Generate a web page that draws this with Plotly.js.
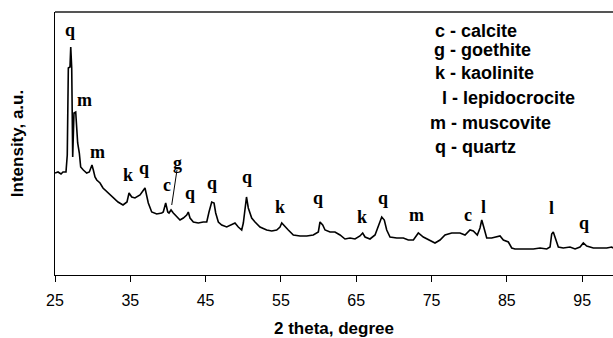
<!DOCTYPE html>
<html>
<head>
<meta charset="utf-8">
<script src="https://cdn.plot.ly/plotly-3.0.1.min.js"></script>
<style>html,body{margin:0;padding:0;background:#fff;}#chart{width:613px;height:338px;}</style>
</head>
<body>
<div id="chart"></div>
<script>
// 2-theta (degree) values of the XRD pattern
const twoTheta = [25.00,25.40,25.80,26.06,26.46,26.63,26.77,26.99,27.09,27.22,27.35,27.52,27.75,27.88,28.01,28.23,28.41,28.76,29.21,29.56,29.74,29.91,30.09,30.31,30.54,30.98,31.37,32.04,32.70,33.37,34.03,34.56,34.83,35.19,35.62,35.89,36.29,36.95,37.39,37.84,38.51,39.17,39.38,39.70,39.97,40.14,40.41,40.71,41.16,41.60,42.04,42.49,42.70,42.93,43.37,44.03,44.69,45.15,45.45,45.81,46.12,46.34,46.69,47.14,47.80,48.47,48.90,49.34,49.79,50.01,50.23,50.43,50.67,51.12,51.56,52.22,53.11,53.78,54.44,54.88,55.11,55.54,55.98,56.65,57.54,58.43,59.30,59.97,60.19,60.55,60.86,61.52,62.18,62.85,63.51,64.18,64.84,65.50,65.86,66.17,66.83,67.50,67.94,68.39,68.73,69.05,69.49,70.38,71.26,71.92,72.59,73.25,73.91,74.80,75.46,76.13,76.79,77.68,78.78,79.45,80.11,80.55,81.08,81.44,81.67,81.97,82.33,82.99,83.66,84.10,84.54,85.20,85.65,86.09,87.19,88.52,89.41,90.30,90.74,90.96,91.17,91.40,91.84,92.50,93.39,94.06,94.72,95.16,95.61,96.49,97.38,98.27,98.93,99.10];
// intensity (arbitrary units)
const intensity = [102,103,101,103,103,120,207,208,228,207,118,162,163,147,132,122,108,105,102,103,108,110,105,98,95,92,87,82,78,73,70,73,82,78,77,78,80,87,72,63,61,62,63,72,63,62,65,62,58,55,57,60,63,57,53,52,53,53,63,73,72,62,53,50,48,50,52,48,45,52,68,78,67,57,53,48,45,44,45,48,52,48,45,40,39,39,40,43,53,50,45,43,43,40,36,37,36,39,42,38,36,40,48,58,55,45,38,37,37,35,35,42,38,35,32,35,40,42,42,40,45,44,40,47,55,47,37,37,38,39,35,33,27,26,26,26,27,26,28,41,43,38,28,27,28,26,28,32,29,27,27,27,28,27];

// peak labels
const peakText = ["q","m","m","k","q","c","g","q","q","q","k","q","k","q","m","c","l","l","q"];
const peakX = [26.99,28.98,30.58,34.69,36.82,39.81,41.33,42.93,45.85,50.43,54.88,59.97,65.73,68.52,72.94,79.89,81.88,90.96,95.25];
const peakY = [245,175,123,100,107,90,112,82,92,98,68,77,58,77,60,60,68,67,52];

// mineral key
const keyCodes = ["c","g","k","l","m","q"];
const keyNames = ["calcite","goethite","kaolinite","lepidocrocite","muscovite","quartz"];
const keyX = [0.677,0.676,0.677,0.690,0.668,0.677];
const keyY = [0.926,0.857,0.768,0.673,0.578,0.487];

const xTicks = [25,35,45,55,65,75,85,95];

const trace = {
  x: twoTheta, y: intensity, type: "scatter", mode: "lines",
  line: {color: "#000", width: 1.6}, hoverinfo: "skip", showlegend: false
};

const annotations = [];
peakText.forEach((t, i) => annotations.push({
  x: peakX[i], y: peakY[i], xref: "x", yref: "y", text: t, showarrow: false,
  font: {family: "Liberation Serif, Times New Roman, serif", size: 18, color: "#000", weight: "bold"},
  xanchor: "center", yanchor: "middle"
}));
keyCodes.forEach((c, i) => annotations.push({
  x: keyX[i], y: keyY[i], xref: "paper", yref: "paper",
  text: c + " - " + keyNames[i], showarrow: false,
  font: {family: "Liberation Sans, Arial, sans-serif", size: 18, color: "#000", weight: "bold"},
  xanchor: "left", yanchor: "middle"
}));

const layout = {
  width: 613, height: 338,
  margin: {l: 55, r: 0, t: 12, b: 63},
  paper_bgcolor: "#fff", plot_bgcolor: "#fff",
  showlegend: false,
  xaxis: {
    range: [25, 99.1], tickvals: xTicks, ticktext: xTicks.map(String),
    ticks: "outside", ticklen: 6, tickcolor: "#000", tickwidth: 1,
    ticklabelstandoff: 5,
    showline: true, linecolor: "#000", linewidth: 1, mirror: false,
    showgrid: false, zeroline: false,
    tickfont: {family: "Liberation Sans, Arial, sans-serif", size: 16, color: "#000"},
    title: {text: "2 theta, degree", font: {family: "Liberation Sans, Arial, sans-serif", size: 17, color: "#000", weight: "bold"}, standoff: 14}
  },
  yaxis: {
    range: [0, 263], showticklabels: false, ticks: "",
    showline: true, linecolor: "#000", linewidth: 1,
    showgrid: false, zeroline: false,
    title: {text: "Intensity, a.u.", font: {family: "Liberation Sans, Arial, sans-serif", size: 17, color: "#000", weight: "bold"}, standoff: 26}
  },
  shapes: [
    {type: "line", xref: "x", yref: "y", x0: 41.20, y0: 105, x1: 40.50, y1: 70,
     line: {color: "#000", width: 1}},
    {type: "line", xref: "paper", yref: "paper", x0: 0, y0: 1, x1: 1, y1: 1,
     line: {color: "#555", width: 2}}
  ],
  annotations: annotations
};

Plotly.newPlot("chart", [trace], layout, {displayModeBar: false, staticPlot: true});
</script>
</body>
</html>
